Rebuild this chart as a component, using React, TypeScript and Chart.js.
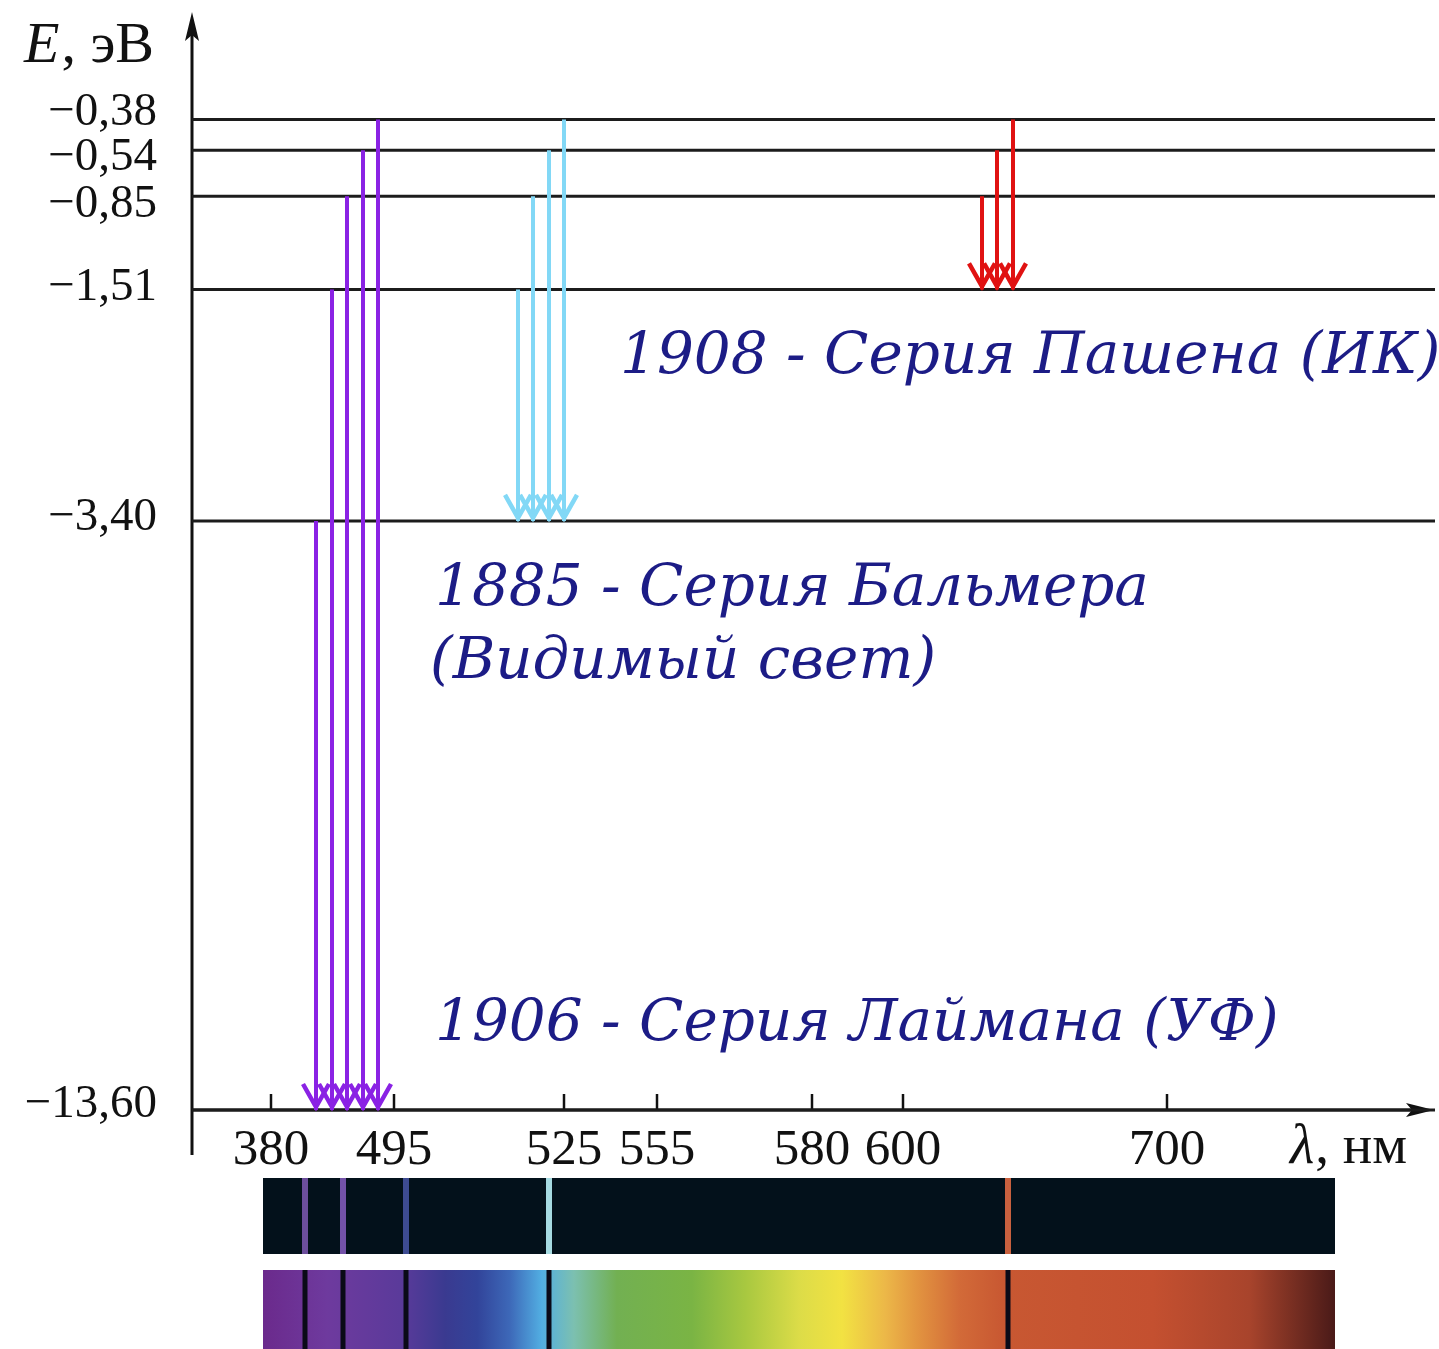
import React, { useEffect, useRef } from 'react';
import { Chart, registerables } from 'chart.js';

Chart.register(...registerables);

// Energy levels of hydrogen (eV) and their height on the diagram's (non-linear) energy axis
const levelEnergies = [-13.6, -3.4, -1.51, -0.85, -0.54, -0.38];
const levelLabels = ['−13,60', '−3,40', '−1,51', '−0,85', '−0,54', '−0,38'];
const levelHeights = [0, 53.7, 74.8, 83.3, 87.5, 90.3];

// Wavelength axis (schematic, non-linear)
const wavelengthTicks = [380, 495, 525, 555, 580, 600, 700];
const wavelengthTickPos = [7.9, 20.2, 37.2, 46.5, 62.0, 71.1, 97.5];

// Series of transitions
const lymanX = [12.4, 14.0, 15.5, 17.1, 18.6];
const lymanUpper = [-3.4, -1.51, -0.85, -0.54, -0.38];
const lymanLower = -13.6;
const balmerX = [32.6, 34.1, 35.7, 37.2];
const balmerUpper = [-1.51, -0.85, -0.54, -0.38];
const balmerLower = -3.4;
const paschenX = [79.0, 80.5, 82.1];
const paschenUpper = [-0.85, -0.54, -0.38];
const paschenLower = -1.51;

const seriesTitles = ['1908 - Серия Пашена (ИК)', '1885 - Серия Бальмера', '(Видимый свет)', '1906 - Серия Лаймана (УФ)'];

// Emission spectrum lines (schematic positions) and their colours
const spectrumLineX = [11.3, 15.1, 21.4, 35.7, 81.6];
const spectrumLineColors = ['#6c4e9c', '#7352a8', '#3e4c92', '#a6dbe2', '#c9613f'];
const spectrumRange = [7.1, 114.3];
const spectrumStopPos = [0, 0.06, 0.13, 0.17, 0.2, 0.23, 0.26, 0.29, 0.33, 0.4, 0.45, 0.5, 0.54, 0.58, 0.61, 0.65, 0.69, 0.83, 0.92, 1.0];
const spectrumStopColors = ['#6b2a8c', '#6e3a9e', '#5a3a9a', '#3a3a90', '#32449a', '#3d68b8', '#52aee2', '#7cc0b0', '#72b052', '#7ab444', '#a8c840', '#dcdc48', '#f2e242', '#ecb848', '#e29440', '#d26a38', '#c85832', '#c45030', '#a8442c', '#4a1a18'];

const LEVEL_COLOR = '#1c1c1c';
const TEXT_BLUE = '#1c1c86';
// small vertical nudges (in axis units) so that crowded level labels don't collide
const LABEL_NUDGE = [0.45, 0.3, 0.2, -0.8, -0.65, 0.65];

const heightOf = (e: number) => levelHeights[levelEnergies.indexOf(e)];

function arrowDatasets(xs: number[], uppers: number[], lower: number, color: string) {
  return xs.map((x, i) => ({
    type: 'line' as const,
    label: 'arrow',
    data: [{ x, y: heightOf(uppers[i]) }, { x, y: heightOf(lower) }],
    borderColor: color,
    borderWidth: 4,
    pointRadius: 0,
    order: 0,
    clip: false as const,
    isArrow: true,
  }));
}

const decorPlugin = {
  id: 'decor',
  beforeDatasetsDraw(chart: any) {
    const ctx = chart.ctx;
    const xs = chart.scales.x;
    const { left, right, top, bottom } = chart.chartArea;
    ctx.save();
    // spectra
    const sx0 = xs.getPixelForValue(spectrumRange[0]);
    const sx1 = xs.getPixelForValue(spectrumRange[1]);
    const t1 = bottom + 68;
    ctx.fillStyle = '#03111b';
    ctx.fillRect(sx0, t1, sx1 - sx0, 76);
    spectrumLineX.forEach((v, i) => {
      const px = xs.getPixelForValue(v);
      ctx.fillStyle = spectrumLineColors[i];
      ctx.fillRect(px - 3, t1, 6, 76);
    });
    const t2 = bottom + 160;
    const g = ctx.createLinearGradient(sx0, 0, sx1, 0);
    spectrumStopPos.forEach((p, i) => g.addColorStop(p, spectrumStopColors[i]));
    ctx.fillStyle = g;
    ctx.fillRect(sx0, t2, sx1 - sx0, 100);
    spectrumLineX.forEach((v) => {
      const px = xs.getPixelForValue(v);
      ctx.fillStyle = '#0a0a18';
      ctx.fillRect(px - 2.5, t2, 5, 100);
    });

    // axes
    ctx.strokeStyle = '#111';
    ctx.fillStyle = '#111';
    ctx.lineWidth = 3;
    ctx.beginPath();
    ctx.moveTo(left, top + 20);
    ctx.lineTo(left, bottom + 45);
    ctx.stroke();
    ctx.beginPath();
    ctx.moveTo(left, top - 1);
    ctx.lineTo(left - 7, top + 28);
    ctx.lineTo(left, top + 22);
    ctx.lineTo(left + 7, top + 28);
    ctx.closePath();
    ctx.fill();
    ctx.beginPath();
    ctx.moveTo(left, bottom);
    ctx.lineTo(right - 14, bottom);
    ctx.stroke();
    ctx.beginPath();
    ctx.moveTo(right + 2, bottom);
    ctx.lineTo(right - 26, bottom - 7);
    ctx.lineTo(right - 20, bottom);
    ctx.lineTo(right - 26, bottom + 7);
    ctx.closePath();
    ctx.fill();
    // x tick marks (pointing up into the plot)
    ctx.lineWidth = 2.5;
    wavelengthTickPos.forEach((v) => {
      const px = xs.getPixelForValue(v);
      ctx.beginPath();
      ctx.moveTo(px, bottom);
      ctx.lineTo(px, bottom - 16);
      ctx.stroke();
    });

    // axis titles
    ctx.textBaseline = 'alphabetic';
    ctx.textAlign = 'left';
    ctx.font = 'italic 58px "Liberation Serif", serif';
    ctx.fillText('E', 24, 62);
    let w = ctx.measureText('E').width;
    ctx.font = '58px "Liberation Serif", serif';
    ctx.fillText(', эВ', 24 + w + 2, 62);
    ctx.font = 'italic 56px "Liberation Serif", serif';
    ctx.fillText('λ', 1290, 1163);
    w = ctx.measureText('λ').width;
    ctx.font = '55px "Liberation Serif", serif';
    ctx.fillText(', нм', 1290 + w + 1, 1163);

    // series titles
    ctx.fillStyle = TEXT_BLUE;
    ctx.font = 'italic 58px "DejaVu Serif", serif';
    ctx.fillText(seriesTitles[0], 620, 373);
    ctx.fillText(seriesTitles[1], 435, 605);
    ctx.fillText(seriesTitles[2], 430, 678);
    ctx.fillText(seriesTitles[3], 435, 1040);
    ctx.restore();
  },
  afterDatasetsDraw(chart: any) {
    const ctx = chart.ctx;
    ctx.save();
    chart.data.datasets.forEach((ds: any, i: number) => {
      if (!ds.isArrow) return;
      const meta = chart.getDatasetMeta(i);
      const p = meta.data[1];
      ctx.strokeStyle = ds.borderColor;
      ctx.lineWidth = 4.5;
      ctx.lineJoin = 'miter';
      ctx.beginPath();
      ctx.moveTo(p.x - 13, p.y - 26);
      ctx.lineTo(p.x, p.y - 3);
      ctx.lineTo(p.x + 13, p.y - 26);
      ctx.stroke();
    });
    ctx.restore();
  },
};

export default function App() {
  const ref = useRef<HTMLCanvasElement>(null);
  useEffect(() => {
    if (!ref.current) return;
    const levelDatasets = levelEnergies.map((e) => ({
      type: 'line' as const,
      label: 'level',
      data: [{ x: 0, y: heightOf(e) }, { x: 124.3, y: heightOf(e) }],
      borderColor: LEVEL_COLOR,
      borderWidth: 3,
      pointRadius: 0,
      order: 10,
      clip: false as const,
    }));
    const chart = new Chart(ref.current, {
      type: 'line',
      data: {
        datasets: [
          ...levelDatasets,
          ...arrowDatasets(lymanX, lymanUpper, lymanLower, '#8a22e4'),
          ...arrowDatasets(balmerX, balmerUpper, balmerLower, '#82d8f6'),
          ...arrowDatasets(paschenX, paschenUpper, paschenLower, '#e01212'),
        ] as any,
      },
      options: {
        animation: false,
        responsive: false,
        devicePixelRatio: 1,
        layout: { padding: { left: 0, top: 13, right: 7, bottom: 0 } },
        plugins: { legend: { display: false }, tooltip: { enabled: false } },
        scales: {
          x: {
            type: 'linear',
            position: 'bottom',
            min: 0,
            max: 124,
            grid: { display: false },
            border: { display: false },
            afterFit: (s: any) => { s.height = 239; s.paddingLeft = 0; s.paddingRight = 0; },
            afterBuildTicks: (s: any) => { s.ticks = wavelengthTickPos.map((v) => ({ value: v })); },
            ticks: {
              autoSkip: false,
              maxRotation: 0,
              padding: 2,
              color: '#111',
              font: { family: '"Liberation Serif", serif', size: 51 },
              callback: (_v: any, i: number) => String(wavelengthTicks[i]),
            },
          },
          y: {
            type: 'linear',
            position: 'left',
            min: 0,
            max: 100,
            grid: { display: false },
            border: { display: false },
            afterFit: (s: any) => { s.width = 192; s.paddingTop = 0; s.paddingBottom = 0; },
            afterBuildTicks: (s: any) => { s.ticks = levelHeights.map((v, i) => ({ value: v + LABEL_NUDGE[i] })); },
            ticks: {
              autoSkip: false,
              padding: 27,
              color: '#111',
              font: { family: '"Liberation Serif", serif', size: 47 },
              callback: (_v: any, i: number) => levelLabels[i],
            },
          },
        },
      } as any,
      plugins: [decorPlugin],
    });
    return () => chart.destroy();
  }, []);
  return (
    <div style={{ position: 'absolute', left: 0, top: 0, width: 1439, height: 1349, background: '#fff' }}>
      <canvas ref={ref} width={1439} height={1349} style={{ display: 'block' }} />
    </div>
  );
}
